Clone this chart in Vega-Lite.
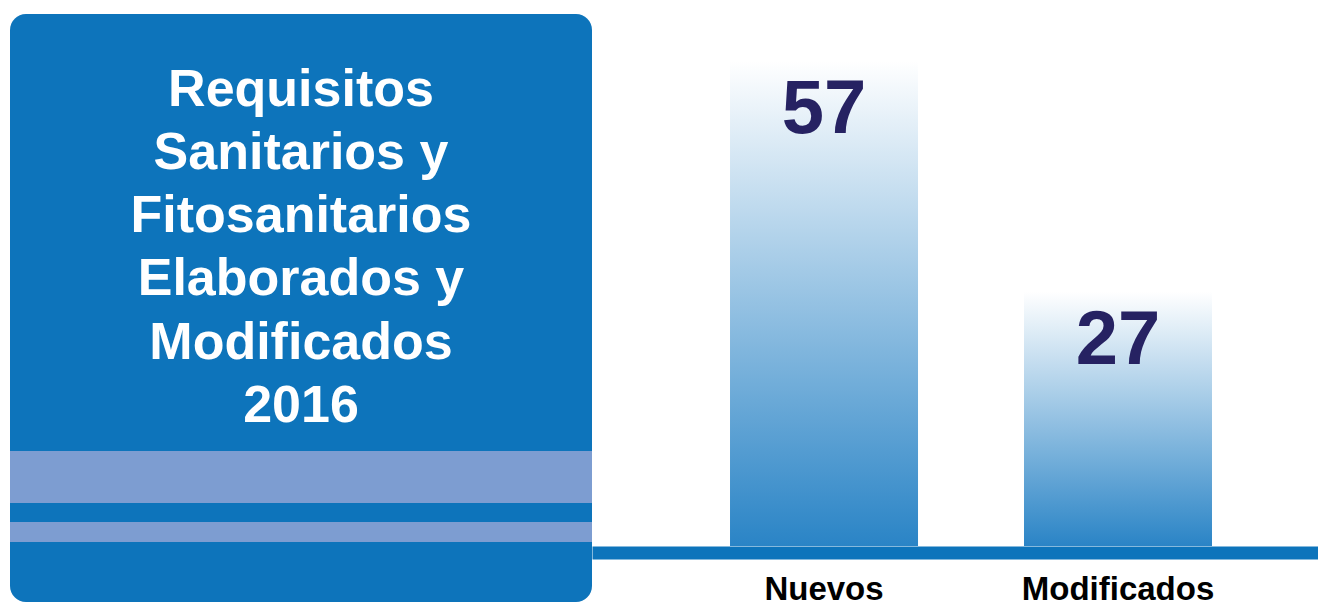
{
  "$schema": "https://vega.github.io/schema/vega-lite/v6.json",
  "background": "white",
  "padding": {"left": 10, "top": 14, "right": 0, "bottom": 0},
  "spacing": 0,
  "config": {"view": {"stroke": null}, "font": "Liberation Sans"},
  "hconcat": [
    {
      "width": 582,
      "height": 588,
      "view": {"fill": "#0d74bb", "stroke": null, "cornerRadius": 16},
      "layer": [
        {
          "data": {"values": [{"franja": "ancha"}]},
          "mark": {"type": "rect", "color": "#7d9dd1"},
          "encoding": {
            "y": {"datum": 74.32, "type": "quantitative", "scale": {"domain": [0, 100], "reverse": true}, "axis": null},
            "y2": {"datum": 83.16}
          }
        },
        {
          "data": {"values": [{"franja": "estrecha"}]},
          "mark": {"type": "rect", "color": "#7d9dd1"},
          "encoding": {
            "y": {"datum": 86.39, "type": "quantitative", "scale": {"domain": [0, 100], "reverse": true}, "axis": null},
            "y2": {"datum": 89.8}
          }
        },
        {
          "data": {"values": [
            {"linea": "Requisitos", "orden": 1},
            {"linea": "Sanitarios y", "orden": 2},
            {"linea": "Fitosanitarios", "orden": 3},
            {"linea": "Elaborados y", "orden": 4},
            {"linea": "Modificados", "orden": 5},
            {"linea": "2016", "orden": 6}
          ]},
          "mark": {"type": "text", "color": "white", "font": "Liberation Sans", "fontWeight": "bold", "fontSize": 52, "baseline": "alphabetic", "align": "center"},
          "encoding": {
            "y": {"field": "orden", "type": "quantitative", "scale": {"domain": [-0.4455, 8.8435], "reverse": true, "nice": false, "zero": false}, "axis": null},
            "text": {"field": "linea"}
          }
        }
      ],
      "resolve": {"scale": {"y": "independent"}}
    },
    {
      "width": 726,
      "height": 532,
      "data": {"values": [
        {"categoria": "Nuevos", "valor": 57},
        {"categoria": "Modificados", "valor": 27}
      ]},
      "encoding": {
        "x": {
          "field": "categoria", "type": "nominal", "sort": null,
          "scale": {"paddingInner": 0.3605, "paddingOuter": 0.415, "align": 0.5656},
          "axis": {
            "title": null, "orient": "bottom", "labelAngle": 0,
            "domain": true, "domainColor": "#0d74bb", "domainWidth": 13, "domainCap": "butt",
            "offset": 6.5, "ticks": false, "tickSize": 0,
            "labelFont": "Liberation Sans", "labelFontWeight": "bold", "labelFontSize": 33, "labelColor": "black",
            "labelBaseline": "alphabetic", "labelPadding": 46.5, "labelLimit": 0, "grid": false
          }
        },
        "y": {
          "field": "valor", "type": "quantitative",
          "scale": {"type": "pow", "exponent": 0.865, "domain": [0, 63.4]},
          "axis": null
        }
      },
      "layer": [
        {
          "mark": {
            "type": "bar",
            "color": {
              "gradient": "linear", "x1": 0, "y1": 0, "x2": 0, "y2": 1,
              "stops": [
                {"offset": 0, "color": "#ffffff"},
                {"offset": 1, "color": "#2a84c6"}
              ]
            }
          }
        },
        {
          "mark": {"type": "text", "font": "Liberation Sans", "fontWeight": "bold", "fontSize": 76, "color": "#262262", "baseline": "alphabetic", "dy": 72},
          "encoding": {"text": {"field": "valor", "type": "quantitative"}}
        }
      ]
    }
  ]
}
